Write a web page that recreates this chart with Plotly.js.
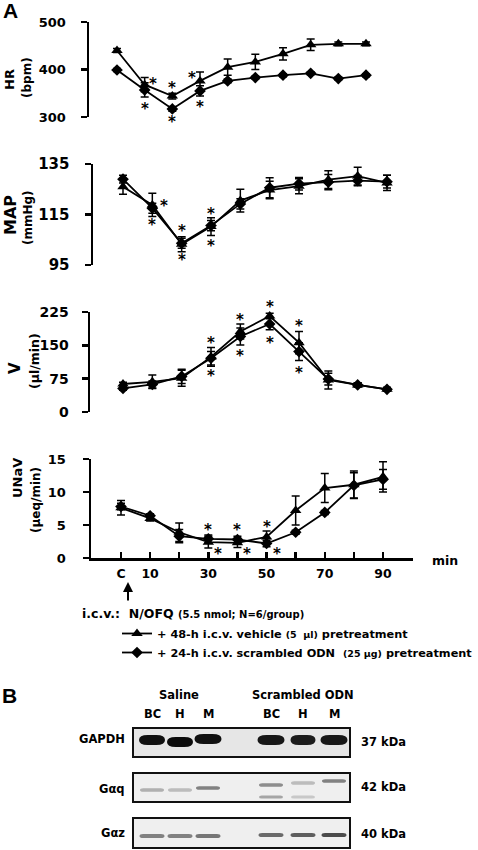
<!DOCTYPE html>
<html><head><meta charset="utf-8">
<script src="https://cdn.plot.ly/plotly-3.0.1.min.js"></script>
<style>html,body{margin:0;padding:0;background:#fff}#chart{width:478px;height:850px}</style>
</head><body><div id="chart"></div>
<script>
// ---------------- DATA ----------------
const time = [0, 10, 20, 30, 40, 50, 60, 70, 80, 90];
const xTickVals = [0, 10, 20, 30, 40, 50, 60, 70, 80, 90, 100];
const xTickText = ['C', '10', '', '30', '', '50', '', '70', '', '90', ''];

const vehicleName = '+ 48-h i.c.v. vehicle <span style="font-size:9.5px">(5  µl)</span> pretreatment';
const odnName = '+ 24-h i.c.v. scrambled ODN  <span style="font-size:9.5px">(25 µg)</span> pretreatment';

// HR (bpm)
const hrVehicle = [440, 368, 344, 376, 405, 416, 433, 452, 454, 454];
const hrVehicleErr = [4, 15, 6, 19, 17, 16, 13, 12, 4, 4];
const hrOdn = [399, 357, 317, 355, 376, 383, 388, 392, 381, 388];
const hrOdnErr = [3, 15, 5, 11, 4, 3, 3, 3, 3, 3];
const hrTicks = [300, 400, 500];

// MAP (mmHg)
const mapVehicle = [126, 118.8, 103.2, 110.2, 120.5, 124.7, 126.2, 128.8, 130.2, 127.5];
const mapVehicleErr = [3, 4.6, 3, 3.5, 4.5, 3.5, 3, 3.5, 3.5, 3];
const mapOdn = [129, 117.5, 103.6, 110.6, 119.2, 125.6, 127.2, 127.8, 128.4, 128.0];
const mapOdnErr = [1.5, 2, 2, 2, 2, 4, 2.5, 3, 2, 2.5];
const mapTicks = [95, 115, 135];

// V (µl/min)
const vVehicle = [63, 68, 76, 124, 181, 216, 156, 72, 61, 51];
const vVehicleErr = [4, 15, 18, 21, 17, 6, 25, 20, 5, 4];
const vOdn = [53, 62, 80, 121, 170, 198, 136, 74, 61, 51];
const vOdnErr = [4, 8, 16, 15, 19, 13, 20, 13, 5, 4];
const vTicks = [0, 75, 150, 225];

// UNaV (µeq/min)
const unVehicle = [7.6, 6.0, 3.9, 2.4, 2.3, 3.2, 7.2, 10.6, 11.1, 12.3];
const unVehicleErr = [1.1, 0.4, 1.4, 0.9, 0.7, 0.9, 2.2, 2.2, 2.1, 2.3];
const unOdn = [7.8, 6.4, 3.3, 2.9, 2.8, 2.2, 3.9, 6.9, 11.0, 11.9];
const unOdnErr = [0.5, 0.3, 1.0, 0.6, 0.5, 0.5, 0.3, 0.3, 1.9, 1.5];
const unTicks = [0, 5, 10, 15];

// significance (*) time points
const hrSigVehicle = [10, 20, 30], hrSigOdn = [10, 20, 30];
const mapSigVehicle = [10, 20, 30], mapSigOdn = [10, 20, 30];
const vSigVehicle = [30, 40, 50, 60], vSigOdn = [30, 40, 50, 60];
const unSigVehicle = [30, 40, 50], unSigOdn = [30, 40, 50];

// Western blot (panel B)
const blotGroups = ['Saline', 'Scrambled ODN'];
const blotLanes = ['BC', 'H', 'M', 'BC', 'H', 'M'];
const blotRows = ['GAPDH', 'Gαq', 'Gαz'];
const blotKda = ['37 kDa', '42 kDa', '40 kDa'];
const gapdhBand = [0.93, 0.95, 0.93, 0.9, 0.88, 0.9];
const gaqUpperBand = [0.25, 0.2, 0.45, 0.4, 0.2, 0.45];
const gaqLowerBand = [0, 0, 0, 0.3, 0.15, 0];
const gazBand = [0.45, 0.45, 0.5, 0.55, 0.6, 0.68];

// ---------------- LAYOUT HELPERS ----------------
const W = 478, H = 850;
const px = v => v / W, py = v => 1 - v / H;
const FONT = 'DejaVu Sans';
const bold = (size) => ({family: FONT, size: size, color: '#000', weight: 'bold'});

const panels = [
  {key: 'hr', pxC: 117, px90: 366, axisPx: 89, top: 22, bot: 117, range: [300, 500], ticks: hrTicks, tf: 13, standoff: 12,
   veh: hrVehicle, vehErr: hrVehicleErr, odn: hrOdn, odnErr: hrOdnErr, sigV: hrSigVehicle, sigO: hrSigOdn,
   t1: 'HR', t1s: 13, t1x: 9, t1y: 80, t2: '(bpm)', t2s: 12, t2x: 27, t2y: 78},
  {key: 'map', pxC: 123, px90: 387, axisPx: 93, top: 164, bot: 265, range: [95, 135], ticks: mapTicks, tf: 15, standoff: 12,
   veh: mapVehicle, vehErr: mapVehicleErr, odn: mapOdn, odnErr: mapOdnErr, sigV: mapSigVehicle, sigO: mapSigOdn,
   t1: 'MAP', t1s: 16, t1x: 10, t1y: 215, t2: '(mmHg)', t2s: 12, t2x: 28, t2y: 218},
  {key: 'v', pxC: 123, px90: 387, axisPx: 90, top: 312, bot: 412, range: [0, 225], ticks: vTicks, tf: 14, standoff: 10,
   veh: vVehicle, vehErr: vVehicleErr, odn: vOdn, odnErr: vOdnErr, sigV: vSigVehicle, sigO: vSigOdn,
   t1: 'V', t1s: 15, t1x: 15, t1y: 368, t2: '(µl/min)', t2s: 12.5, t2x: 34, t2y: 361},
  {key: 'un', pxC: 121, px90: 383, axisPx: 91, top: 459, bot: 558, range: [0, 15], ticks: unTicks, tf: 13, standoff: 14,
   veh: unVehicle, vehErr: unVehicleErr, odn: unOdn, odnErr: unOdnErr, sigV: unSigVehicle, sigO: unSigOdn,
   t1: 'UNaV', t1s: 13, t1x: 17, t1y: 478, t2: '(µeq/min)', t2s: 12, t2x: 36, t2y: 500}
];

const starStyle = {
  hr:  {veh: {10: [8, -4], 20: [0, -11], 30: [-8, -6]}, odn: {10: [0, 16], 20: [0, 10], 30: [0, 13]}},
  map: {veh: {10: [12, -2], 20: [0, -16], 30: [0, -16]}, odn: {10: [0, 14], 20: [0, 14], 30: [0, 17]}},
  v:   {veh: {30: [0, -17], 40: [0, -15], 50: [0, -12], 60: [0, -20]}, odn: {30: [0, 15], 40: [0, 17], 50: [0, 16], 60: [0, 18]}},
  un:  {veh: {30: [0, -15], 40: [0, -16], 50: [0, -13]}, odn: {30: [10, 12], 40: [10, 11.5], 50: [10, 7.5]}}
};

const traces = [];
const layout = {
  width: W, height: H,
  margin: {l: 0, r: 0, t: 0, b: 0, pad: 0, autoexpand: false},
  paper_bgcolor: '#fff', plot_bgcolor: 'rgba(0,0,0,0)',
  font: bold(12),
  showlegend: true,
  legend: {x: px(117), y: py(619), xanchor: 'left', yanchor: 'top', bgcolor: 'rgba(0,0,0,0)',
           font: bold(11.3), itemwidth: 30, traceorder: 'normal', tracegroupgap: 0},
  annotations: [], shapes: []
};

panels.forEach((p, i) => {
  const n = i + 1;
  const xa = n === 1 ? 'x' : 'x' + n, ya = n === 1 ? 'y' : 'y' + n;
  const slope = (p.px90 - p.pxC) / 90;
  const xLeft = (p.axisPx - p.pxC) / slope;
  const isBottom = (p.key === 'un');
  const xRight = isBottom ? 100.3 : 100;
  const domRight = p.pxC + xRight * slope;
  layout[n === 1 ? 'xaxis' : 'xaxis' + n] = {
    domain: [px(p.axisPx), px(domRight)], range: [xLeft, xRight], anchor: ya,
    visible: isBottom, showgrid: false, zeroline: false, automargin: false,
    showline: isBottom, linewidth: 2.5, linecolor: '#000',
    ticks: isBottom ? 'inside' : '', ticklen: 6, tickwidth: 2.5, tickcolor: '#000',
    tickmode: 'array', tickvals: xTickVals, ticktext: xTickText,
    tickfont: bold(12.5), ticklabelstandoff: 2
  };
  layout[n === 1 ? 'yaxis' : 'yaxis' + n] = {
    domain: [py(p.bot), py(p.top)], range: p.range, anchor: xa, automargin: false,
    showgrid: false, zeroline: false, showline: true, linewidth: 2.5, linecolor: '#000',
    ticks: 'outside', ticklen: 6, tickwidth: 2.5, tickcolor: '#000',
    tickmode: 'array', tickvals: p.ticks, tickfont: bold(p.tf), ticklabelstandoff: p.standoff
  };
  const common = {x: time, xaxis: xa, yaxis: ya, mode: 'lines+markers', line: {color: '#000', width: 1.8}, cliponaxis: false};
  traces.push(Object.assign({}, common, {
    y: p.veh, name: vehicleName, legendrank: 1, showlegend: n === 4,
    marker: {symbol: 'triangle-up', size: 10, color: '#000'},
    error_y: {type: 'data', array: p.vehErr, visible: true, color: '#000', thickness: 1.5, width: 4}
  }));
  traces.push(Object.assign({}, common, {
    y: p.odn, name: odnName, legendrank: 2, showlegend: n === 4,
    marker: {symbol: 'diamond', size: 9, color: '#000'},
    error_y: {type: 'data', array: p.odnErr, visible: true, color: '#000', thickness: 1.5, width: 4}
  }));
  const addStars = (sig, vals, style) => sig.forEach(t => {
    const idx = time.indexOf(t);
    const off = style[t] || [0, 0];
    layout.annotations.push({x: t, y: vals[idx], xref: xa, yref: ya, text: '*', showarrow: false,
      xshift: off[0], yshift: -off[1] - 3, font: bold(15), xanchor: 'center', yanchor: 'middle'});
  });
  addStars(p.sigV, p.veh, starStyle[p.key].veh);
  addStars(p.sigO, p.odn, starStyle[p.key].odn);
  layout.annotations.push({x: px(p.t1x), y: py(p.t1y), xref: 'paper', yref: 'paper', text: p.t1, textangle: -90,
    showarrow: false, font: bold(p.t1s), xanchor: 'center', yanchor: 'middle'});
  layout.annotations.push({x: px(p.t2x), y: py(p.t2y), xref: 'paper', yref: 'paper', text: p.t2, textangle: -90,
    showarrow: false, font: bold(p.t2s), xanchor: 'center', yanchor: 'middle'});
});

layout.annotations.push({x: px(1), y: py(11), xref: 'paper', yref: 'paper', text: 'A', showarrow: false,
  font: {family: 'Liberation Sans', size: 21, weight: 'bold', color: '#000'}, xanchor: 'left', yanchor: 'middle'});
layout.annotations.push({x: px(0), y: py(695), xref: 'paper', yref: 'paper', text: 'B', showarrow: false,
  font: {family: 'Liberation Sans', size: 21, weight: 'bold', color: '#000'}, xanchor: 'left', yanchor: 'middle'});
layout.annotations.push({x: px(430), y: py(560), xref: 'paper', yref: 'paper', text: 'min', showarrow: false,
  font: bold(12.5), xanchor: 'left', yanchor: 'middle'});
layout.annotations.push({x: px(128), y: py(582), xref: 'paper', yref: 'paper', text: '', showarrow: true,
  ax: 0, ay: 20, arrowhead: 2, arrowsize: 1, arrowwidth: 2, arrowcolor: '#000'});
layout.annotations.push({x: px(80), y: py(613), xref: 'paper', yref: 'paper',
  text: 'i.c.v.:  N/OFQ <span style="font-size:10px">(5.5 nmol; N=6/group)</span>', showarrow: false,
  font: bold(12.5), xanchor: 'left', yanchor: 'middle'});

// ---------------- PANEL B (western blot) ----------------
const laneX = [152, 180, 208, 271, 303, 334];
const groupX = [179, 303];
const boxX = [133, 350];
const rowBox = [[728, 757], [773, 802], [818, 848]];
const rowLabelY = [739, 789, 833];
const kdaY = [742, 787, 834];
blotGroups.forEach((g, i) => layout.annotations.push({x: px(groupX[i]), y: py(695), xref: 'paper', yref: 'paper',
  text: g, showarrow: false, font: bold(11.5), xanchor: 'center', yanchor: 'middle'}));
blotLanes.forEach((l, i) => layout.annotations.push({x: px(laneX[i]), y: py(714), xref: 'paper', yref: 'paper',
  text: l, showarrow: false, font: bold(11.5), xanchor: 'center', yanchor: 'middle'}));
blotRows.forEach((r, i) => {
  layout.annotations.push({x: px(127), y: py(rowLabelY[i]), xref: 'paper', yref: 'paper', text: r, showarrow: false,
    font: bold(11.5), xanchor: 'right', yanchor: 'middle'});
  layout.annotations.push({x: px(359), y: py(kdaY[i]), xref: 'paper', yref: 'paper', text: blotKda[i], showarrow: false,
    font: bold(11.5), xanchor: 'left', yanchor: 'middle'});
  layout.shapes.push({type: 'rect', xref: 'paper', yref: 'paper', x0: px(boxX[0]), x1: px(boxX[1]),
    y0: py(rowBox[i][1]), y1: py(rowBox[i][0]), fillcolor: i === 0 ? '#e6e6e6' : '#efefef',
    line: {color: '#111', width: 2}, layer: 'below'});
});
const grey = d => { const c = Math.round(235 * (1 - d)); return `rgb(${c},${c},${c})`; };
function band(cx, cy, w, h, d) {
  if (d <= 0) return;
  const x0 = cx - w / 2, x1 = cx + w / 2, y0 = cy - h / 2, y1 = cy + h / 2, r = Math.min(h * 0.9, w / 3);
  const P = (x, y) => `${px(x)},${py(y)}`;
  const path = `M ${P(x0, cy)} Q ${P(x0, y0)} ${P(x0 + r, y0)} L ${P(x1 - r, y0)} Q ${P(x1, y0)} ${P(x1, cy)} ` +
               `Q ${P(x1, y1)} ${P(x1 - r, y1)} L ${P(x0 + r, y1)} Q ${P(x0, y1)} ${P(x0, cy)} Z`;
  layout.shapes.push({type: 'path', xref: 'paper', yref: 'paper', path: path, fillcolor: grey(d), line: {width: 0}});
}
const gapdhY = [740, 742, 739, 740, 740, 740];
const gapdhW = [26, 26, 27, 27, 25, 27];
gapdhBand.forEach((d, i) => band(laneX[i], gapdhY[i], gapdhW[i], 10, d));
const gaqY = [790, 790, 788, 785, 783, 781];
gaqUpperBand.forEach((d, i) => band(laneX[i], gaqY[i], 24, 3.5, d));
gaqLowerBand.forEach((d, i) => band(laneX[i], 797, 24, 3, d));
gazBand.forEach((d, i) => band(laneX[i], i < 3 ? 836 : 835, 25, 4, d));

Plotly.newPlot('chart', traces, layout, {staticPlot: true, displayModeBar: false});
</script>
</body></html>
